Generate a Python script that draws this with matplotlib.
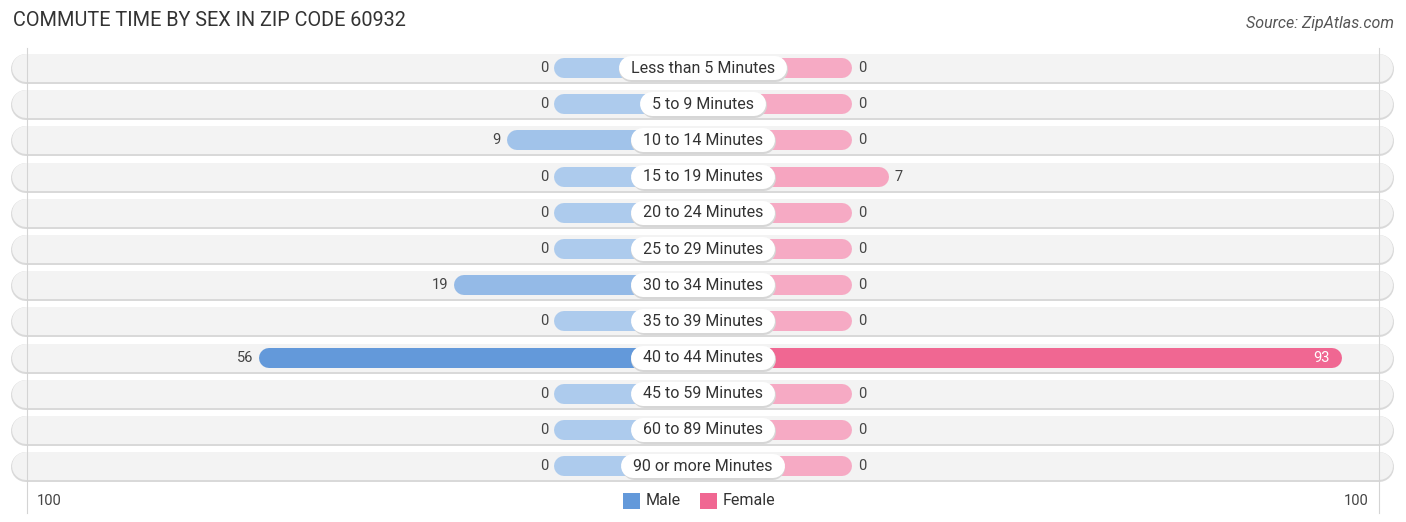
import matplotlib.pyplot as plt
from matplotlib.colors import to_rgb
from matplotlib.patches import Rectangle
import numpy as np

plt.rcParams['font.family'] = ['Roboto', 'DejaVu Sans']

categories = ['Less than 5 Minutes', '5 to 9 Minutes', '10 to 14 Minutes',
              '15 to 19 Minutes', '20 to 24 Minutes', '25 to 29 Minutes',
              '30 to 34 Minutes', '35 to 39 Minutes', '40 to 44 Minutes',
              '45 to 59 Minutes', '60 to 89 Minutes', '90 or more Minutes']
male = [0, 0, 9, 0, 0, 0, 19, 0, 56, 0, 0, 0]
female = [0, 0, 0, 7, 0, 0, 0, 0, 93, 0, 0, 0]
axis_max = 100
title = 'COMMUTE TIME BY SEX IN ZIP CODE 60932'
source = 'Source: ZipAtlas.com'

# layout (x in value units, y in row units)
W, H = 1406, 522
ppu = 5.27          # pixels per value unit
off = 149 / ppu     # half width of the label area
row_px = 36.2
y0_px = 68

fig = plt.figure(figsize=(W / 100, H / 100), dpi=100)
ax = fig.add_axes([0, 0, 1, 1])
ax.set_xlim(-W / 2 / ppu, W / 2 / ppu)
ax.set_ylim((H - y0_px) / row_px, -y0_px / row_px)
ax.axis('off')
renderer = fig.canvas.get_renderer()

male_hi, male_lo = np.array(to_rgb('#6399da')), np.array(to_rgb('#adcbed'))
fem_hi, fem_lo = np.array(to_rgb('#f06792')), np.array(to_rgb('#f6aac4'))


def mix(lo, hi, v, vmax):
    t = v / vmax
    return tuple(lo + (hi - lo) * t)


def pill(x0, x1, y, lw_px, color, z):
    r = lw_px / 2 / ppu
    ax.plot([x0 + r, x1 - r], [y, y], color=color, lw=lw_px * 0.72,
            solid_capstyle='round', zorder=z)


edge = off + axis_max
bg_l, bg_r = (12 - W / 2) / ppu, (1393 - W / 2) / ppu
for i, cat in enumerate(categories):
    # row background
    pill(bg_l - 0.2, bg_r + 0.2, i + 0.025, 30, '#d9d9d9', 1)
    pill(bg_l, bg_r, i, 28, '#f3f3f3', 2)

    m, f = male[i], female[i]
    pill(-(off + m), 0, i, 20, mix(male_lo, male_hi, m, max(male)), 4)
    pill(0, off + f, i, 20, mix(fem_lo, fem_hi, f, max(female)), 4)

    t = ax.text(0, i, cat, ha='center', va='center', fontsize=11.5,
                color='#333333', zorder=7)
    half = t.get_window_extent(renderer).width / 2 / ppu + 12 / ppu
    pill(-half, half, i + 0.03, 25, '#d6d6d6', 5)
    pill(-half, half, i, 24, 'white', 6)

    ax.text(-(off + m) - 6 / ppu, i, str(m), ha='right', va='center',
            fontsize=10.5, color='#444444', zorder=6)
    if f > 60:
        ax.text(off + f - 12 / ppu, i, str(f), ha='right', va='center',
                fontsize=10.5, color='white', zorder=6)
    else:
        ax.text(off + f + 6 / ppu, i, str(f), ha='left', va='center',
                fontsize=10.5, color='#444444', zorder=6)

# gridlines at the axis max
n = len(categories)
for s in (-1, 1):
    ax.plot([s * edge, s * edge], [-0.55, n + 0.3], color='#d4d4d4', lw=0.8, zorder=3)

# axis labels
ax.text(-edge + 10 / ppu, n - 0.05, str(axis_max), ha='left', va='center',
        fontsize=10.5, color='#444444')
ax.text(edge - 10 / ppu, n - 0.05, str(axis_max), ha='right', va='center',
        fontsize=10.5, color='#444444')

# legend
sq_w = 17 / ppu
sq_h = 16 / row_px
for lx, col, lab in [(-80 / ppu, '#6399da', 'Male'), (-3 / ppu, '#f06792', 'Female')]:
    ax.add_patch(Rectangle((lx, n - 0.05 - sq_h / 2), sq_w, sq_h, fc=col, ec='none'))
    ax.text(lx + sq_w + 6 / ppu, n - 0.05, lab, ha='left', va='center',
            fontsize=11.5, color='#333333')

fig.text(13 / W, 1 - 21 / H, title, ha='left', va='center', fontsize=14.3,
         color='#333333')
fig.text(1394 / W, 1 - 24 / H, source, ha='right', va='center', fontsize=11.5,
         color='#555555', style='italic')

fig.savefig('out.png', dpi=100)
